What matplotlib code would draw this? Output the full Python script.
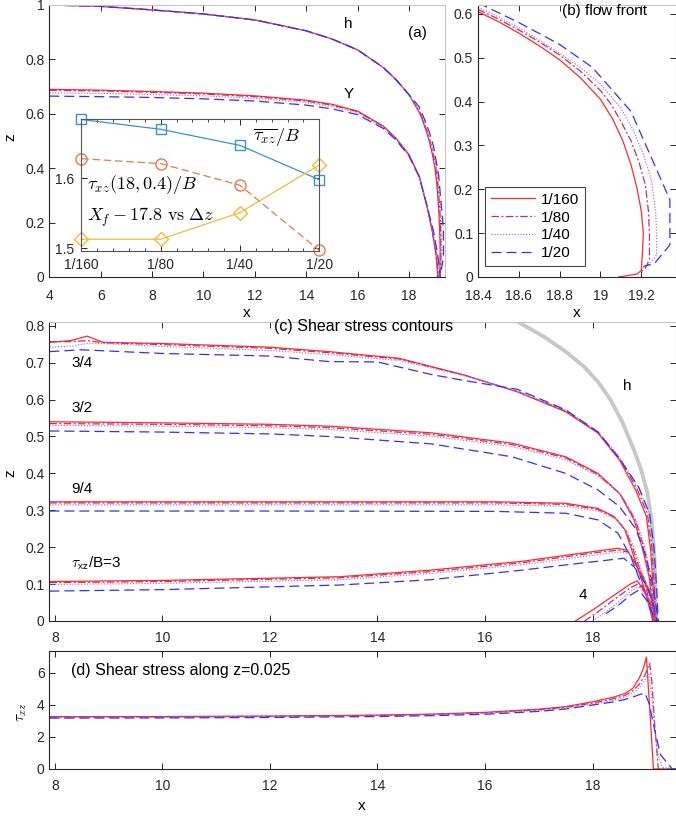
import matplotlib.pyplot as plt
import matplotlib.ticker as mticker

plt.rcParams['font.family'] = ['Liberation Sans', 'DejaVu Sans']
plt.rcParams['mathtext.fontset'] = 'cm'

W, H = 676, 816
RES = ['1/160', '1/80', '1/40', '1/20']

# ---- (a) free surface h (far field shared) and front part per resolution (also panel b)
h_far_x = [4, 6, 8, 10, 12, 14, 15, 16, 17, 17.5, 18.0]
h_far_z = [1.0, 0.995, 0.982, 0.967, 0.945, 0.905, 0.875, 0.835, 0.77, 0.725, 0.67]

front_x = {
    '1/160': [18.4, 18.5, 18.6, 18.7, 18.8, 18.9, 19.0, 19.06, 19.11, 19.15, 19.18, 19.2, 19.21,
              19.205, 19.2, 19.18, 19.09],
    '1/80': [18.4, 18.5, 18.6, 18.7, 18.8, 18.9, 19.0, 19.05, 19.1, 19.15, 19.19, 19.22, 19.235,
             19.24, 19.24, 19.22, 19.2],
    '1/40': [18.4, 18.5, 18.6, 18.7, 18.8, 18.9, 19.0, 19.1, 19.16, 19.21, 19.25, 19.27, 19.275,
             19.275, 19.24, 19.21],
    '1/20': [18.4, 18.6, 18.8, 18.96, 19.15, 19.34, 19.34, 19.265, 19.21],
}
front_z = {
    '1/160': [0.605, 0.582, 0.556, 0.527, 0.495, 0.455, 0.405, 0.36, 0.31, 0.255, 0.2, 0.15, 0.1,
              0.05, 0.015, 0.007, 0.0],
    '1/80': [0.61, 0.588, 0.563, 0.536, 0.506, 0.47, 0.425, 0.395, 0.355, 0.31, 0.26, 0.21, 0.15,
             0.1, 0.04, 0.02, 0.012],
    '1/40': [0.615, 0.593, 0.568, 0.54, 0.51, 0.478, 0.44, 0.385, 0.335, 0.28, 0.22, 0.15, 0.1,
             0.05, 0.03, 0.02],
    '1/20': [0.625, 0.58, 0.53, 0.478, 0.377, 0.176, 0.073, 0.031, 0.024],
}

# ---- (a) yield surface Y
Y_x = {
    '1/160': [4, 6, 8, 10, 12, 14, 15, 16, 17, 17.5, 18, 18.4, 18.7, 18.9, 19.05, 19.12],
    '1/80': [4, 6, 8, 10, 12, 14, 15, 16, 17, 17.5, 18, 18.4, 18.7, 18.9, 19.07, 19.15],
    '1/40': [4, 6, 8, 10, 12, 14, 15, 16, 17, 17.5, 18, 18.4, 18.7, 18.92, 19.1, 19.18],
    '1/20': [4, 6, 8, 10, 12, 14, 15, 16, 17, 17.5, 18, 18.4, 18.7, 18.95, 19.12, 19.22],
}
Y_z = {
    '1/160': [0.69, 0.687, 0.682, 0.676, 0.666, 0.65, 0.635, 0.61, 0.555, 0.51, 0.45, 0.37, 0.26, 0.17, 0.08, 0.0],
    '1/80': [0.686, 0.684, 0.679, 0.673, 0.663, 0.647, 0.632, 0.608, 0.553, 0.508, 0.448, 0.368, 0.26, 0.17, 0.08, 0.0],
    '1/40': [0.677, 0.675, 0.671, 0.666, 0.657, 0.642, 0.627, 0.604, 0.55, 0.506, 0.447, 0.368, 0.26, 0.17, 0.08, 0.0],
    '1/20': [0.665, 0.663, 0.66, 0.655, 0.647, 0.632, 0.618, 0.597, 0.546, 0.503, 0.445, 0.367, 0.26, 0.17, 0.08, 0.0],
}

# ---- inset: convergence vs grid size
inset_labels = ['1/160', '1/80', '1/40', '1/20']
tau_mean = [1.684, 1.670, 1.647, 1.598]
tau_point = [1.628, 1.621, 1.590, 1.497]
xf_shift = [1.513, 1.513, 1.551, 1.619]

# ---- (c) free surface h drawn in grey
hc_x = [16.4, 16.62, 17.1, 17.5, 17.84, 18.1, 18.33, 18.55, 18.77, 18.9, 19.02, 19.1, 19.15,
        19.17, 19.18]
hc_z = [0.83, 0.81, 0.77, 0.73, 0.689, 0.648, 0.6, 0.54, 0.463, 0.41, 0.346, 0.27, 0.17,
        0.07, 0.0]

# ---- (c) shear stress contours, levels tau_xz/B = 3/4, 3/2, 9/4, 3, 4
c_levels = ['3/4', '3/2', '9/4', '3', '4']
c_x = {
    '3/4': {
        '1/160': [7.9, 8.3, 8.6, 8.9, 10, 12, 13.1, 14.4, 15.6, 16.6, 17.5, 18.1, 18.5, 18.8, 19.0, 19.08, 19.13, 19.15],
        '1/80': [7.9, 8.3, 8.6, 8.9, 10, 12, 13.1, 14.4, 15.6, 16.6, 17.5, 18.1, 18.5, 18.82, 19.02, 19.1, 19.15, 19.17],
        '1/40': [7.9, 8.3, 8.6, 8.9, 10, 12, 13.1, 14.4, 15.6, 16.6, 17.5, 18.1, 18.5, 18.84, 19.04, 19.12, 19.17, 19.19],
        '1/20': [7.9, 8.5, 10, 12, 13.1, 14.0, 14.5, 15.0, 15.6, 16.6, 17.5, 18.1, 18.5, 18.86, 19.06, 19.14, 19.19, 19.22],
    },
    '3/2': {
        '1/160': [7.9, 10, 12, 13.1, 15.0, 16.5, 17.5, 18.1, 18.5, 18.77, 18.92, 19.05, 19.1, 19.15],
        '1/80': [7.9, 10, 12, 13.1, 15.0, 16.5, 17.5, 18.1, 18.52, 18.8, 18.95, 19.07, 19.12, 19.17],
        '1/40': [7.9, 10, 12, 13.1, 15.0, 16.5, 17.5, 18.1, 18.54, 18.82, 18.97, 19.09, 19.14, 19.19],
        '1/20': [7.9, 10, 12, 13.1, 15.0, 16.5, 17.5, 18.1, 18.5, 18.8, 18.98, 19.1, 19.17, 19.22],
    },
    '9/4': {
        '1/160': [7.9, 12, 16.2, 17.5, 18.1, 18.4, 18.6, 18.71, 18.83, 18.95, 19.05, 19.12],
        '1/80': [7.9, 12, 16.2, 17.5, 18.1, 18.42, 18.62, 18.74, 18.86, 18.98, 19.08, 19.15],
        '1/40': [7.9, 12, 16.2, 17.5, 18.1, 18.44, 18.64, 18.77, 18.89, 19.0, 19.1, 19.17],
        '1/20': [7.9, 12, 16.2, 17.5, 18.1, 18.47, 18.71, 18.9, 19.05, 19.15, 19.2],
    },
    '3': {
        '1/160': [7.9, 10, 13.3, 15.0, 16.7, 17.5, 18.1, 18.46, 18.64, 18.77, 18.95, 19.08, 19.14, 19.15],
        '1/80': [7.9, 10, 13.3, 15.0, 16.7, 17.5, 18.1, 18.48, 18.66, 18.8, 18.97, 19.1, 19.16, 19.17],
        '1/40': [7.9, 10, 13.3, 15.0, 16.7, 17.5, 18.1, 18.5, 18.68, 18.83, 18.99, 19.12, 19.17, 19.18],
        '1/20': [7.9, 10, 13.3, 15.0, 16.7, 17.5, 18.1, 18.58, 18.77, 19.02, 19.14, 19.2],
    },
    '4': {
        '1/160': [17.68, 18.0, 18.4, 18.7, 18.83, 18.95, 19.05, 19.11, 19.11],
        '1/80': [17.85, 18.1, 18.4, 18.7, 18.84, 18.97, 19.07, 19.12, 19.13],
        '1/40': [18.0, 18.2, 18.45, 18.7, 18.85, 18.98, 19.08, 19.13, 19.14],
        '1/20': [18.25, 18.5, 18.7, 18.86, 19.0, 19.14, 19.18],
    },
}
c_z = {
    '3/4': {
        '1/160': [0.755, 0.760, 0.772, 0.755, 0.752, 0.742, 0.730, 0.712, 0.667, 0.621, 0.567, 0.509, 0.436, 0.355, 0.283, 0.19, 0.08, 0.0],
        '1/80': [0.757, 0.757, 0.760, 0.754, 0.749, 0.739, 0.727, 0.710, 0.667, 0.622, 0.569, 0.511, 0.44, 0.36, 0.29, 0.2, 0.09, 0.0],
        '1/40': [0.742, 0.745, 0.752, 0.752, 0.744, 0.733, 0.722, 0.706, 0.665, 0.623, 0.571, 0.514, 0.444, 0.365, 0.295, 0.205, 0.095, 0.0],
        '1/20': [0.730, 0.735, 0.725, 0.718, 0.703, 0.702, 0.685, 0.668, 0.652, 0.628, 0.572, 0.512, 0.44, 0.362, 0.29, 0.2, 0.09, 0.0],
    },
    '3/2': {
        '1/160': [0.540, 0.537, 0.533, 0.528, 0.51, 0.482, 0.445, 0.40, 0.346, 0.274, 0.2, 0.12, 0.057, 0.0],
        '1/80': [0.535, 0.533, 0.529, 0.524, 0.506, 0.478, 0.442, 0.397, 0.343, 0.272, 0.2, 0.12, 0.06, 0.0],
        '1/40': [0.530, 0.528, 0.524, 0.519, 0.501, 0.473, 0.437, 0.393, 0.34, 0.27, 0.2, 0.122, 0.062, 0.0],
        '1/20': [0.515, 0.512, 0.507, 0.50, 0.48, 0.445, 0.40, 0.355, 0.31, 0.25, 0.18, 0.11, 0.05, 0.0],
    },
    '9/4': {
        '1/160': [0.323, 0.323, 0.323, 0.319, 0.305, 0.283, 0.247, 0.2, 0.147, 0.093, 0.039, 0.0],
        '1/80': [0.320, 0.320, 0.320, 0.316, 0.302, 0.28, 0.245, 0.2, 0.148, 0.095, 0.042, 0.0],
        '1/40': [0.315, 0.315, 0.315, 0.311, 0.298, 0.276, 0.242, 0.198, 0.148, 0.096, 0.044, 0.0],
        '1/20': [0.298, 0.298, 0.297, 0.292, 0.274, 0.238, 0.174, 0.102, 0.05, 0.02, 0.0],
    },
    '3': {
        '1/160': [0.107, 0.11, 0.12, 0.138, 0.162, 0.178, 0.19, 0.197, 0.192, 0.161, 0.111, 0.066, 0.02, 0.0],
        '1/80': [0.104, 0.107, 0.117, 0.134, 0.158, 0.174, 0.186, 0.192, 0.187, 0.158, 0.11, 0.066, 0.022, 0.0],
        '1/40': [0.099, 0.102, 0.112, 0.129, 0.153, 0.168, 0.18, 0.187, 0.183, 0.155, 0.108, 0.066, 0.022, 0.0],
        '1/20': [0.081, 0.085, 0.0975, 0.112, 0.138, 0.152, 0.162, 0.17, 0.147, 0.093, 0.039, 0.0],
    },
    '4': {
        '1/160': [0.0, 0.03, 0.07, 0.1, 0.109, 0.084, 0.057, 0.02, 0.0],
        '1/80': [0.0, 0.025, 0.058, 0.09, 0.1, 0.078, 0.052, 0.018, 0.0],
        '1/40': [0.0, 0.02, 0.048, 0.08, 0.092, 0.072, 0.05, 0.016, 0.0],
        '1/20': [0.02, 0.045, 0.07, 0.084, 0.057, 0.01, 0.0],
    },
}

# ---- (d) shear stress along z=0.025
d_x = {
    '1/160': [7.9, 10, 12, 14, 15, 16, 17, 17.5, 18, 18.4, 18.6, 18.75, 18.87, 18.95, 19.0, 19.07, 19.13, 19.2, 19.55],
    '1/80': [7.9, 10, 12, 14, 15, 16, 17, 17.5, 18, 18.4, 18.6, 18.75, 18.87, 18.97, 19.06, 19.1, 19.15, 19.22, 19.55],
    '1/40': [7.9, 10, 12, 14, 15, 16, 17, 17.5, 18, 18.4, 18.6, 18.75, 18.87, 18.97, 19.04, 19.1, 19.15, 19.22, 19.3, 19.55],
    '1/20': [7.9, 10, 12, 14, 15, 16, 17, 17.5, 18, 18.4, 18.6, 18.75, 18.87, 18.97, 19.05, 19.14, 19.26, 19.48, 19.55],
}
d_tau = {
    '1/160': [3.27, 3.28, 3.31, 3.37, 3.43, 3.54, 3.74, 3.9, 4.2, 4.5, 4.72, 5.05, 5.7, 6.35, 7.0, 3.3, 0.0, 0.0, 0.0],
    '1/80': [3.25, 3.26, 3.29, 3.35, 3.41, 3.51, 3.7, 3.86, 4.12, 4.4, 4.6, 4.9, 5.3, 5.85, 6.6, 5.5, 3.0, 0.0, 0.0],
    '1/40': [3.22, 3.23, 3.26, 3.32, 3.38, 3.48, 3.66, 3.8, 4.05, 4.3, 4.5, 4.75, 5.1, 5.55, 6.0, 4.5, 2.5, 0.8, 0.1, 0.0],
    '1/20': [3.18, 3.19, 3.22, 3.28, 3.33, 3.42, 3.6, 3.75, 4.0, 4.2, 4.35, 4.5, 4.65, 4.75, 4.1, 2.65, 0.9, 0.0, 0.0],
}

# line styles per resolution
STY = {
    '1/160': dict(color='#ff2a2a', linestyle='-'),
    '1/80': dict(color='#c0306c', linestyle=(0, (6, 2, 1.5, 2))),
    '1/40': dict(color='#b07ad8', linestyle=(0, (1, 1.3))),
    '1/20': dict(color='#3030ff', linestyle=(0, (8, 4))),
}
LW = 0.9
DARK = '#262626'
LIGHT = '#c4c4c4'


def px_axes(fig, left, top, right, bottom):
    return fig.add_axes([left / W, 1 - bottom / H, (right - left) / W, (bottom - top) / H])


def style_axes(ax, light_box=True, xpad=8):
    for s in ['left', 'bottom']:
        ax.spines[s].set_color(DARK)
        ax.spines[s].set_linewidth(0.8)
    for s in ['top', 'right']:
        ax.spines[s].set_color(LIGHT if light_box else DARK)
        ax.spines[s].set_linewidth(0.8)
    ax.tick_params(direction='in', length=4, width=0.7, colors=DARK, labelsize=10,
                   top=True, right=True, labelcolor=DARK)
    ax.tick_params(axis='x', pad=xpad)


def ftext(fig, x, y, s, **kw):
    fig.text(x / W, 1 - y / H, s, **kw)


def plot():
    fig = plt.figure(figsize=(W / 100, H / 100), dpi=100)

    # ---------------- (a)
    ax_a = px_axes(fig, 49.3, 5, 445, 277)
    for r in RES:
        ax_a.plot(h_far_x + front_x[r], h_far_z + front_z[r], lw=LW, **STY[r])
        ax_a.plot(Y_x[r], Y_z[r], lw=LW, **STY[r])
    ax_a.set_xlim(4, 19.4)
    ax_a.set_ylim(0, 1)
    ax_a.set_xticks([4, 6, 8, 10, 12, 14, 16, 18])
    ax_a.set_yticks([0, 0.2, 0.4, 0.6, 0.8, 1])
    ax_a.yaxis.set_major_formatter(mticker.FormatStrFormatter('%g'))
    style_axes(ax_a, xpad=9)
    ftext(fig, 349, 94, 'Y', fontsize=11, ha='center', va='center')
    ftext(fig, 417, 33, '(a)', fontsize=11, ha='center', va='center')
    ftext(fig, 348, 24, 'h', fontsize=11, ha='center', va='center')
    ftext(fig, 247, 313, 'x', fontsize=11, ha='center', va='center')
    ftext(fig, 10, 137, 'z', fontsize=11, ha='center', va='center', rotation=90)

    # inset
    ax_i = px_axes(fig, 81.3, 119, 319.3, 250.7)
    xi = [1, 2, 3, 4]
    ax_i.plot(xi, tau_mean, color='#3a93d0', lw=0.9, marker='s', ms=7, mfc='none', clip_on=False)
    ax_i.plot(xi, tau_point, color='#e27a52', lw=0.9, ls=(0, (6, 3)), marker='o', ms=8, mfc='none',
              clip_on=False)
    ax_i.plot(xi, xf_shift, color='#f0bb3a', lw=0.9, marker='D', ms=7, mfc='none', clip_on=False)
    ax_i.set_xlim(1, 4)
    ax_i.set_ylim(1.4966, 1.6847)
    ax_i.set_xticks(xi)
    ax_i.set_xticklabels(inset_labels)
    ax_i.xaxis.set_minor_locator(mticker.MultipleLocator(0.2))
    ax_i.set_yticks([1.5, 1.6])
    ax_i.yaxis.set_major_formatter(mticker.FormatStrFormatter('%g'))
    for s in ax_i.spines.values():
        s.set_color('#555555')
        s.set_linewidth(0.8)
    ax_i.tick_params(direction='in', length=4, width=0.7, colors=DARK, labelsize=10,
                     top=True, right=True, pad=5)
    ax_i.tick_params(which='minor', direction='in', length=2, width=0.6, colors=DARK,
                     top=True)
    ax_i.text(0.72, 0.86, r'$\overline{\tau_{xz}}/B$', transform=ax_i.transAxes, fontsize=13,
              ha='left', va='center')
    ax_i.text(0.025, 0.50, r'$\tau_{xz}(18,0.4)/B$', transform=ax_i.transAxes, fontsize=13,
              ha='left', va='center')
    ax_i.text(0.025, 0.25, r'$X_f-17.8\ \mathrm{vs}\ \Delta z$', transform=ax_i.transAxes,
              fontsize=13, ha='left', va='center')

    # ---------------- (b)
    ax_b = px_axes(fig, 478, 5, 676, 277)
    for r in RES:
        ax_b.plot(front_x[r], front_z[r], lw=LW, label=r, **STY[r])
    ax_b.set_xlim(18.4, 19.37)
    ax_b.set_ylim(0, 0.62)
    ax_b.set_xticks([18.4, 18.6, 18.8, 19.0, 19.2])
    ax_b.set_yticks([0, 0.1, 0.2, 0.3, 0.4, 0.5, 0.6])
    ax_b.xaxis.set_major_formatter(mticker.FormatStrFormatter('%g'))
    ax_b.yaxis.set_major_formatter(mticker.FormatStrFormatter('%g'))
    style_axes(ax_b, xpad=9)
    ftext(fig, 605, 11, '(b) flow front', fontsize=11, ha='center', va='center')
    ftext(fig, 577, 313, 'x', fontsize=11, ha='center', va='center')
    leg = ax_b.legend(loc='upper left', bbox_to_anchor=(485 / W, 1 - 186.7 / H),
                      bbox_transform=fig.transFigure, borderaxespad=0, fontsize=11,
                      handlelength=2.9, handletextpad=0.35, labelspacing=0.25,
                      borderpad=0.4, fancybox=False, framealpha=1)
    leg.get_frame().set_edgecolor('#444444')
    leg.get_frame().set_linewidth(0.8)

    # ---------------- (c)
    ax_c = px_axes(fig, 49.4, 322.1, 676, 621)
    ax_c.plot(hc_x, hc_z, color='#c8c8c8', lw=2.8, solid_capstyle='butt',
              solid_joinstyle='round', zorder=1)
    for lev in c_levels:
        for r in RES:
            ax_c.plot(c_x[lev][r], c_z[lev][r], lw=LW, zorder=2, **STY[r])
    ax_c.set_xlim(7.9, 19.55)
    ax_c.set_ylim(0, 0.81)
    ax_c.set_xticks([8, 10, 12, 14, 16, 18])
    ax_c.set_yticks([0, 0.1, 0.2, 0.3, 0.4, 0.5, 0.6, 0.7, 0.8])
    ax_c.yaxis.set_major_formatter(mticker.FormatStrFormatter('%g'))
    style_axes(ax_c, xpad=7)
    ftext(fig, 364, 327, '(c) Shear stress contours', fontsize=11.5, ha='center', va='center')
    ftext(fig, 627, 386, 'h', fontsize=11, ha='center', va='center')
    ftext(fig, 82, 363, '3/4', fontsize=11, ha='center', va='center')
    ftext(fig, 82, 408, '3/2', fontsize=11, ha='center', va='center')
    ftext(fig, 82, 489, '9/4', fontsize=11, ha='center', va='center')
    ftext(fig, 71, 563, r'$\tau_{\mathsf{xz}}$/B=3', fontsize=11, ha='left', va='center')
    ftext(fig, 583, 595, '4', fontsize=11, ha='center', va='center')
    ftext(fig, 10, 473, 'z', fontsize=11, ha='center', va='center', rotation=90)

    # ---------------- (d)
    ax_d = px_axes(fig, 49.4, 650.6, 676, 769)
    for r in RES:
        ax_d.plot(d_x[r], d_tau[r], lw=LW, **STY[r])
    ax_d.set_xlim(7.9, 19.55)
    ax_d.set_ylim(0, 7.4)
    ax_d.set_xticks([8, 10, 12, 14, 16, 18])
    ax_d.set_yticks([0, 2, 4, 6])
    style_axes(ax_d, light_box=False, xpad=7)
    ftext(fig, 71, 671, '(d) Shear stress along z=0.025', fontsize=11.5, ha='left', va='center')
    ftext(fig, 362, 806, 'x', fontsize=11, ha='center', va='center')
    ftext(fig, 22, 712, r'$\tau_{xz}$', fontsize=11, ha='center', va='center', rotation=90)

    fig.savefig('out.png', dpi=100)


if __name__ == '__main__':
    plot()
